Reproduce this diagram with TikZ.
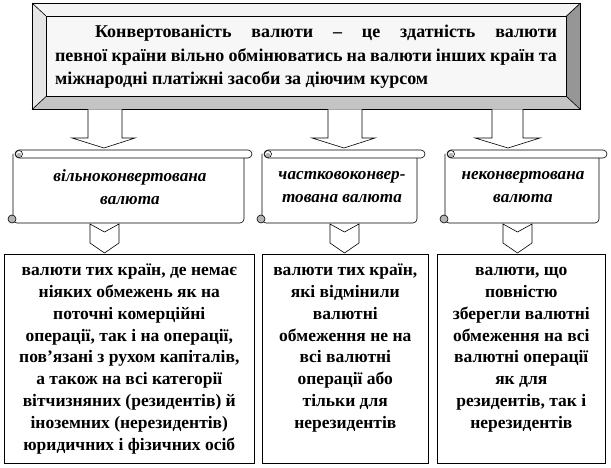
\documentclass[tikz,border=0pt]{standalone}
\usepackage{fontspec}
\setmainfont{Liberation Serif}
\usetikzlibrary{calc}
\definecolor{bevtop}{HTML}{F4F4F4}
\definecolor{bevleft}{HTML}{E6E6E6}
\definecolor{bevbot}{HTML}{C4C4C4}
\definecolor{bevright}{HTML}{969696}
\definecolor{face}{HTML}{F7F7F7}
\definecolor{curlgray}{HTML}{B4B4B4}
\tikzset{
  outline/.style={draw=black, line width=0.6pt},
  boxnode/.style={outline, fill=white, inner sep=0pt, anchor=north west},
  toptext/.style={font=\fontsize{18}{23.5}\selectfont\bfseries, text width=502pt, align=justify, inner sep=0pt},
  scrolltext/.style={font=\fontsize{17.2}{23}\selectfont\bfseries\itshape, align=center, inner sep=0pt},
  bottext/.style={font=\fontsize{17.5}{21.8}\selectfont\bfseries, align=center, inner sep=0pt, anchor=north},
}
\newcommand\blockarrow[8]{% xl xr hl hr ytop yhead ytip xtip
  \draw[outline, fill=white] (#1,#5) -- (#1,#6) -- (#3,#6) -- (#8,#7) -- (#4,#6) -- (#2,#6) -- (#2,#5);}
\newcommand\chevronarrow[2]{% xl xr
  \draw[outline, fill=white] (#1,224) -- ({(#1+#2)/2},232) -- (#2,224) -- (#2,243) -- ({(#1+#2)/2},253) -- (#1,243) -- cycle;}
\newcommand\scrollshape[4]{% BL BR T B
  \draw[outline, fill=white, rounded corners=4pt] ({#1},{#3+4}) -- ({#1},{#4}) -- ({#2},{#4}) -- ({#2},{#3+4});
  \draw[outline, fill=white, rounded corners=4pt] ({#1+2},{#3}) rectangle ({#2+8},{#3+8});
  \draw[outline, fill=white] ({#1+6},{#3+4}) circle[radius=3.5];
  \fill[curlgray] ({#1+6},{#3+5}) circle[radius=2.2];
  \draw[outline, fill=curlgray] ({#1-1},{#4-4}) circle[radius=4];
}
\newcommand\firstln{\vphantom{Її}}
\begin{document}
\begin{tikzpicture}[x=1pt,y=-1pt]
\useasboundingbox (0,0) rectangle (611,468);
% bevelled top box
\fill[bevtop] (32,3) -- (580,3) -- (566,16) -- (46,16) -- cycle;
\fill[bevleft] (32,3) -- (46,16) -- (46,96) -- (32,109) -- cycle;
\fill[bevbot] (32,109) -- (46,96) -- (566,96) -- (580,109) -- cycle;
\fill[bevright] (580,3) -- (580,109) -- (566,96) -- (566,16) -- cycle;
\node[outline, minimum width=548pt, minimum height=106pt, inner sep=0pt, anchor=north west] (outer) at (32,3) {};
\node[boxnode, fill=face, minimum width=520pt, minimum height=80pt] (inner) at (46,16) {};
\draw[outline] (outer.north west) -- (inner.north west) (outer.north east) -- (inner.north east)
  (outer.south west) -- (inner.south west) (outer.south east) -- (inner.south east);
\node[toptext] (t) at (306,57) {\hspace*{40pt}Конвертованість валюти – це здатність валюти\linebreak певної країни вільно обмінюватись на валюти інших країн та\linebreak міжнародні платіжні засоби за діючим курсом};
% arrows from top box
\blockarrow{88}{122}{72}{135}{109.5}{138}{148}{104}
\blockarrow{328}{362}{312}{375}{109.5}{138}{148}{344}
\blockarrow{492}{523}{475}{540}{109.5}{138}{148}{508}
% scrolls
\scrollshape{13}{244}{150}{223}
\scrollshape{262}{417}{150}{223}
\scrollshape{445}{599}{150}{223}
\node[scrolltext] (s1) at (130,187) {вільноконвертована\\валюта};
\node[scrolltext] (s2) at (342,187) {частковоконвер-\\тована валюта};
\node[scrolltext] (s3) at (523,187) {неконвертована\\валюта};
% chevrons
\chevronarrow{90}{119}
\chevronarrow{330}{359}
\chevronarrow{503}{532}
% bottom boxes
\node[boxnode, minimum width=250pt, minimum height=209pt] (b1) at (4,254) {};
\node[boxnode, minimum width=166pt, minimum height=209pt] (b2) at (262,254) {};
\node[boxnode, minimum width=168pt, minimum height=209pt] (b3) at (437,254) {};
\node[bottext] (b1t) at ($(b1.north)+(0,7)$) {\firstln валюти тих країн, де немає\\ніяких обмежень як на\\поточні комерційні\\операції, так і на операції,\\пов’язані з рухом капіталів,\\а також на всі категорії\\вітчизняних (резидентів) й\\іноземних (нерезидентів)\\юридичних і фізичних осіб};
\node[bottext] (b2t) at ($(b2.north)+(0,7)$) {\firstln валюти тих країн,\\які відмінили\\валютні\\обмеження не на\\всі валютні\\операції або\\тільки для\\нерезидентів};
\node[bottext] (b3t) at ($(b3.north)+(0,7)$) {\firstln валюти, що\\повністю\\зберегли валютні\\обмеження на всі\\валютні операції\\як для\\резидентів, так і\\нерезидентів};
\end{tikzpicture}
\end{document}
